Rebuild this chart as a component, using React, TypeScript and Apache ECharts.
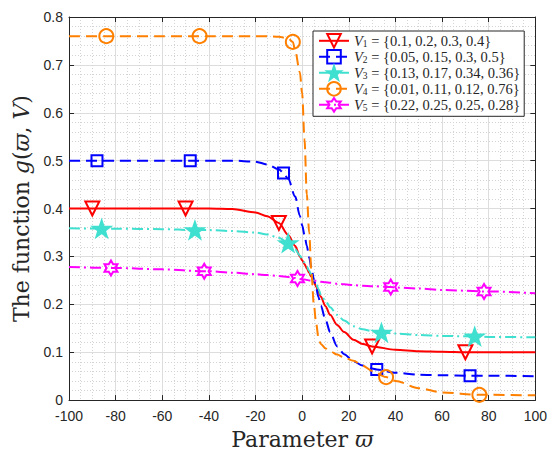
import React, { useEffect, useRef } from "react";
import * as echarts from "echarts";

// ---- data ----
const curveX = [-100, -80, -60, -40, -30, -20, -15, -10, -6, -3, -1, 0, 1, 2, 3, 4, 5, 6, 7, 8, 10, 12, 15, 18, 22, 26, 30, 40, 50, 60, 80, 100];

const v1Curve = [0.4, 0.4, 0.4, 0.4, 0.399, 0.392, 0.384, 0.37, 0.345, 0.322, 0.3, 0.292, 0.284, 0.275, 0.266, 0.257, 0.247, 0.237, 0.226, 0.216, 0.196, 0.178, 0.157, 0.142, 0.126, 0.117, 0.111, 0.105, 0.102, 0.101, 0.1, 0.1];
const v2Curve = [0.5, 0.5, 0.5, 0.5, 0.5, 0.498, 0.492, 0.482, 0.462, 0.425, 0.385, 0.365, 0.345, 0.322, 0.298, 0.275, 0.253, 0.234, 0.215, 0.197, 0.168, 0.142, 0.112, 0.096, 0.081, 0.072, 0.066, 0.057, 0.053, 0.052, 0.051, 0.05];
const v3Curve = [0.359, 0.358, 0.357, 0.355, 0.353, 0.35, 0.346, 0.339, 0.328, 0.315, 0.302, 0.295, 0.287, 0.279, 0.27, 0.261, 0.251, 0.242, 0.232, 0.22, 0.207, 0.194, 0.178, 0.166, 0.154, 0.148, 0.144, 0.139, 0.136, 0.134, 0.132, 0.131];
const v4Curve = [0.76, 0.76, 0.76, 0.76, 0.76, 0.76, 0.76, 0.759, 0.755, 0.73, 0.685, 0.64, 0.545, 0.43, 0.35, 0.265, 0.2, 0.16, 0.13, 0.117, 0.108, 0.102, 0.095, 0.089, 0.082, 0.072, 0.061, 0.04, 0.025, 0.016, 0.011, 0.01];
const v5Curve = [0.278, 0.276, 0.273, 0.269, 0.266, 0.263, 0.261, 0.259, 0.257, 0.255, 0.253, 0.252, 0.252, 0.251, 0.25, 0.25, 0.249, 0.249, 0.248, 0.247, 0.246, 0.245, 0.243, 0.242, 0.24, 0.239, 0.238, 0.235, 0.233, 0.23, 0.227, 0.223];

const v1MarkX = [-90, -50, -10, 30, 70];
const v1MarkY = [0.4, 0.4, 0.37, 0.112, 0.1];
const v2MarkX = [-88, -48, -8, 32, 72];
const v2MarkY = [0.5, 0.5, 0.474, 0.064, 0.051];
const v3MarkX = [-86, -46, -6, 34, 74];
const v3MarkY = [0.358, 0.355, 0.328, 0.141, 0.133];
const v4MarkX = [-84, -44, -4, 36, 76];
const v4MarkY = [0.76, 0.76, 0.748, 0.048, 0.011];
const v5MarkX = [-82, -42, -2, 38, 78];
const v5MarkY = [0.276, 0.269, 0.254, 0.236, 0.227];

const seriesNames = ["V1", "V2", "V3", "V4", "V5"];
const subscripts = ["1", "2", "3", "4", "5"];
const setV1 = [0.1, 0.2, 0.3, 0.4];
const setV2 = [0.05, 0.15, 0.3, 0.5];
const setV3 = [0.13, 0.17, 0.34, 0.36];
const setV4 = [0.01, 0.11, 0.12, 0.76];
const setV5 = [0.22, 0.25, 0.25, 0.28];

const PENTAGRAM = "path://M50,0 L61.8,35.1 L98.1,35.1 L68.8,56.8 L79.4,91 L50,70 L20.6,91 L31.2,56.8 L1.9,35.1 L38.2,35.1 Z";
const HEXAGRAM = "path://M50,0 L64.43,25 L93.3,25 L78.87,50 L93.3,75 L64.43,75 L50,100 L35.57,75 L6.7,75 L21.13,50 L6.7,25 L35.57,25 Z";

function buildData(cx: number[], cy: number[], mx: number[], my: number[]) {
  const pts: any[] = cx.map((x, i) => ({ value: [x, cy[i]], symbol: "none" }));
  mx.forEach((x, i) => {
    const item = { value: [x, my[i]] };
    const j = pts.findIndex((p) => p.value[0] === x);
    if (j >= 0) pts[j] = item;
    else pts.push(item);
  });
  pts.sort((a, b) => a.value[0] - b.value[0]);
  return pts;
}

const TXT = "#262626";
const SERIF = "'Liberation Serif', 'DejaVu Serif', serif";
const NAMEFONT = "'DejaVu Serif', 'Liberation Serif', serif";
const SANS = "'Liberation Sans', Arial, sans-serif";

export default function App() {
  const ref = useRef<HTMLDivElement>(null);
  useEffect(() => {
    if (!ref.current) return;
    const chart = echarts.init(ref.current, undefined, { renderer: "svg" });
    const sets = [setV1, setV2, setV3, setV4, setV5];
    const mk = (
      i: number,
      cy: number[],
      mx: number[],
      my: number[],
      color: string,
      dash: any,
      symbol: string,
      size: number,
      fill: string,
      rotate = 0
    ) => ({
      type: "line",
      name: seriesNames[i],
      data: buildData(curveX, cy, mx, my),
      smooth: 0.3,
      smoothMonotone: "x",
      showSymbol: true,
      showAllSymbol: true,
      symbol,
      symbolSize: size,
      symbolRotate: rotate,
      symbolKeepAspect: true,
      lineStyle: { color, width: 2, type: dash },
      itemStyle: { color: fill, borderColor: color, borderWidth: 2 },
      emphasis: { disabled: true },
      z: 2 + i,
    });
    const nameStyle = (size: number) => ({
      color: TXT,
      fontFamily: NAMEFONT,
      fontSize: size,
      rich: { i: { fontFamily: NAMEFONT, fontStyle: "italic", fontSize: size, color: TXT } },
    });
    const option: any = {
      animation: false,
      grid: { left: 69, right: 11, top: 17, bottom: 49 },
      legend: {
        orient: "vertical",
        left: 313,
        top: 31,
        itemWidth: 30,
        itemHeight: 17,
        itemGap: 0.2,
        padding: [2, 4, 3.5, 5],
        backgroundColor: "#fff",
        borderColor: TXT,
        borderWidth: 1,
        borderRadius: 0,
        data: seriesNames,
        formatter: (name: string) => {
          const i = seriesNames.indexOf(name);
          return `{v|V}{s|${subscripts[i]}}{t| = }{t|\u007B}{t|${sets[i].join(", ")}}{t|\u007D}`;
        },
        textStyle: {
          color: TXT,
          fontFamily: SERIF,
          fontSize: 14.5,
          rich: {
            v: { fontFamily: SERIF, fontStyle: "italic", fontSize: 14.5, color: TXT, lineHeight: 16 },
            s: { fontFamily: SERIF, fontSize: 9.5, color: TXT, lineHeight: 16, verticalAlign: "bottom" },
            t: { fontFamily: SERIF, fontSize: 14.5, color: TXT, lineHeight: 16 },
          },
        },
      },
      xAxis: [
        {
          type: "value",
          min: -100,
          max: 100,
          interval: 20,
          position: "bottom",
          axisLine: { show: true, onZero: false, lineStyle: { color: TXT, width: 1 } },
          axisTick: { show: true, inside: true, length: 5, lineStyle: { color: TXT } },
          axisLabel: { color: TXT, fontSize: 14, lineHeight: 14, fontFamily: SANS, margin: 9 },
          splitLine: { show: true, lineStyle: { color: "#dddddd", width: 1 } },
          minorTick: { show: false, splitNumber: 4 },
          minorSplitLine: { show: true, lineStyle: { color: "#d4d4d4", width: 1, type: [1, 2] } },
          name: "Parameter {i|\u03D6}",
          nameLocation: "middle",
          nameGap: 24,
          nameTextStyle: nameStyle(22),
        },
        {
          type: "value",
          min: -100,
          max: 100,
          interval: 20,
          position: "top",
          axisLine: { show: true, onZero: false, lineStyle: { color: TXT, width: 1 } },
          axisTick: { show: true, inside: true, length: 5, lineStyle: { color: TXT } },
          axisLabel: { show: false },
          splitLine: { show: false },
        },
      ],
      yAxis: [
        {
          type: "value",
          min: 0,
          max: 0.8,
          interval: 0.1,
          position: "left",
          axisLine: { show: true, onZero: false, lineStyle: { color: TXT, width: 1 } },
          axisTick: { show: true, inside: true, length: 5, lineStyle: { color: TXT } },
          axisLabel: { color: TXT, fontSize: 14, lineHeight: 14, fontFamily: SANS, margin: 6 },
          splitLine: { show: true, lineStyle: { color: "#dddddd", width: 1 } },
          minorTick: { show: false, splitNumber: 5 },
          minorSplitLine: { show: true, lineStyle: { color: "#d4d4d4", width: 1, type: [1, 2] } },
          name: "The function {i|g}({i|\u03D6}, {i|V})",
          nameLocation: "middle",
          nameRotate: 90,
          nameGap: 36,
          nameTextStyle: nameStyle(22),
        },
        {
          type: "value",
          min: 0,
          max: 0.8,
          interval: 0.1,
          position: "right",
          axisLine: { show: true, onZero: false, lineStyle: { color: TXT, width: 1 } },
          axisTick: { show: true, inside: true, length: 5, lineStyle: { color: TXT } },
          axisLabel: { show: false },
          splitLine: { show: false },
        },
      ],
      series: [
        mk(0, v1Curve, v1MarkX, v1MarkY, "#ff0000", "solid", "triangle", 14, "rgba(255,255,255,0)", 180),
        mk(1, v2Curve, v2MarkX, v2MarkY, "#0000ff", [11, 6], "rect", 11, "rgba(255,255,255,0)"),
        mk(2, v3Curve, v3MarkX, v3MarkY, "#40e0d0", [11, 4, 2, 4], PENTAGRAM, 17, "#40e0d0"),
        mk(3, v4Curve, v4MarkX, v4MarkY, "#ff8000", [11, 6], "circle", 14, "rgba(255,255,255,0)"),
        mk(4, v5Curve, v5MarkX, v5MarkY, "#ff00ff", [11, 4, 2, 4], HEXAGRAM, 15, "rgba(255,255,255,0)"),
      ],
    };
    chart.setOption(option);
    return () => chart.dispose();
  }, []);
  return <div ref={ref} style={{ width: 550, height: 455, position: "absolute", left: 0, top: 0, background: "#fff" }} />;
}
